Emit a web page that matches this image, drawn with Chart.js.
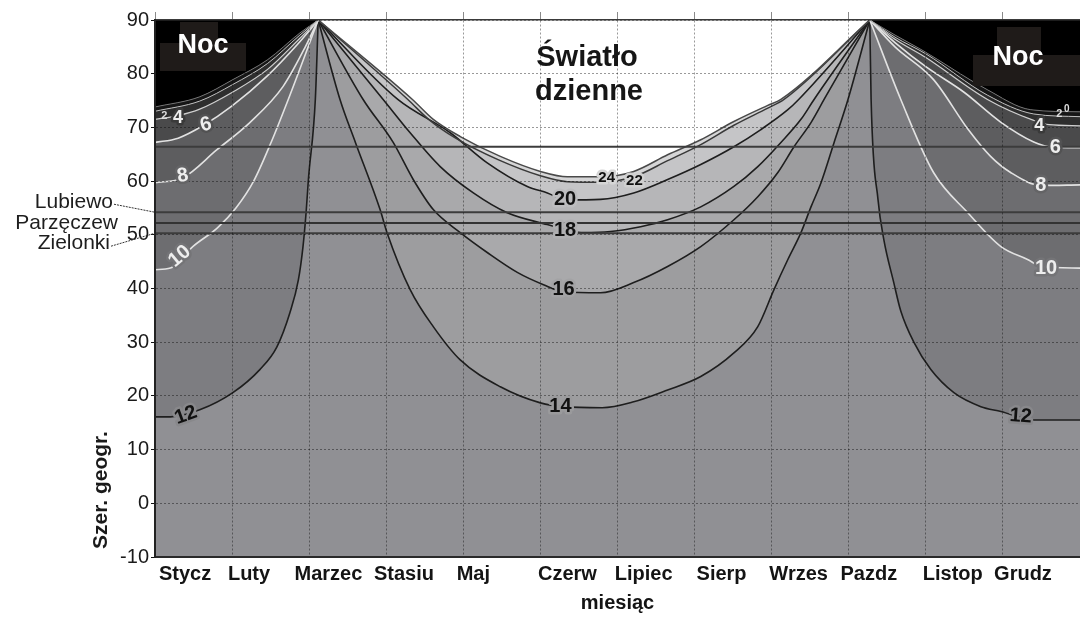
<!DOCTYPE html>
<html><head><meta charset="utf-8">
<script src="https://cdn.jsdelivr.net/npm/chart.js@4.4.1/dist/chart.umd.min.js"></script>
<style>html,body{margin:0;padding:0;background:#fff;}</style>
</head><body>
<canvas id="c" width="1080" height="619"></canvas>
<script>
const FONT = "'Liberation Sans', Arial, sans-serif";

// ---- axes ----
const monthNames = ['Stycz','Luty','Marzec','Stasiu','Maj','Czerw','Lipiec','Sierp','Wrzes','Pazdz','Listop','Grudz'];
const monthLabelPos = [0.39,1.22,2.25,3.23,4.13,5.35,6.34,7.35,8.35,9.26,10.35,11.26];
const latTicks = [-10,0,10,20,30,40,50,60,70,80,90];

// ---- winter contours, left (month, latitude) ----
const c0L  = [[0,73.8],[0.58,75.7],[1.01,78.9],[1.46,82.6],[1.88,87.6],[2.117,90]];
const c2L  = [[0,73.0],[0.58,74.9],[1.01,78.0],[1.46,81.9],[1.88,87.2],[2.117,90]];
const c4L  = [[0,71.5],[0.3,72.2],[0.58,73.4],[1.01,76.6],[1.46,80.8],[1.88,86.6],[2.117,90]];
const c6L  = [[0,67.2],[0.3,68.0],[0.62,70.3],[1.0,74.0],[1.45,79.5],[1.85,85.5],[2.117,90]];
const c8L  = [[0,59.7],[0.36,60.6],[0.8,65.8],[1.23,70.9],[1.66,77.6],[1.95,85.0],[2.117,90]];
const c10L = [[0,43.5],[0.2,43.8],[0.49,47.8],[0.81,51.3],[1.05,55.0],[1.28,60.0],[1.5,67.0],[1.75,76.0],[2.117,90]];
const c12L = [[0,16.1],[0.2,16.1],[0.58,17.4],[1.01,20.6],[1.36,24.9],[1.58,29.1],[1.75,35.5],[1.86,41.6],[1.92,47.8],[1.96,54.1],[1.99,60.3],[2.08,75.2],[2.117,90]];

// ---- winter contours, right ----
const c0R  = [[9.273,90],[9.6,87.2],[9.94,84.5],[10.8,77.0],[11.36,73.3],[12,72.9]];
const c2R  = [[9.273,90],[9.6,86.8],[10.0,83.7],[10.8,76.0],[11.4,72.5],[12,72.0]];
const c4R  = [[9.273,90],[9.6,86.4],[10.0,83.0],[10.8,75.2],[11.4,71.3],[11.6,70.5],[12,70.3]];
const c6R  = [[9.273,90],[9.6,85.8],[10.0,81.3],[10.5,76.5],[10.97,71.0],[11.4,67.3],[11.65,66.3],[12,66.2]];
const c8R  = [[9.273,90],[9.6,85.0],[10.1,78.9],[10.55,69.6],[10.84,64.6],[11.1,61.6],[11.5,59.2],[12,59.3]];
const c10R = [[9.273,90],[9.675,75.2],[10.1,61.6],[10.545,54.1],[10.974,47.8],[11.32,45.4],[11.5,44.1],[12,43.8]];
const c12R = [[9.273,90],[9.29,75.2],[9.38,56.5],[9.455,49.1],[9.584,41.1],[9.675,35.8],[9.844,30.0],[10.065,24.9],[10.364,20.6],[10.714,18.0],[10.974,17.1],[11.4,15.5],[12,15.5]];

// ---- summer contours ----
const s14 = [[2.117,90],[2.40,75.2],[2.60,67.2],[2.92,54.7],[3.01,50.4],[3.31,39.8],[3.61,32.9],[3.96,26.7],[4.48,21.7],[5.0,18.7],[5.3,18.0],[5.8,17.8],[6.21,18.9],[6.65,21.1],[7.08,23.6],[7.51,28.0],[7.82,32.9],[8.03,39.8],[8.21,45.4],[8.38,50.4],[8.51,55.2],[8.64,59.7],[8.81,67.2],[8.99,75.2],[9.273,90]];
const s16 = [[2.117,90],[2.70,75.2],[3.09,67.2],[3.35,60.3],[3.61,54.7],[3.96,50.4],[4.31,46.7],[4.70,43.0],[5.04,40.7],[5.30,39.4],[5.78,39.2],[6.21,41.1],[6.65,44.1],[7.08,47.8],[7.51,52.8],[7.82,57.1],[8.08,61.6],[8.29,66.4],[8.51,70.9],[8.68,75.2],[9.273,90]];
const s18 = [[2.117,90],[2.96,75.2],[3.31,69.0],[3.70,62.7],[4.13,57.8],[4.57,54.1],[5.09,51.9],[5.33,51.0],[5.56,50.4],[5.91,50.6],[6.30,51.5],[6.65,52.8],[7.08,55.2],[7.51,59.0],[7.82,62.7],[8.12,67.2],[8.38,71.5],[8.55,75.2],[9.273,90]];
const s20 = [[2.117,90],[3.15,75.2],[3.83,69.0],[4.31,63.4],[4.83,59.0],[5.09,57.8],[5.33,56.5],[5.78,56.6],[6.21,57.8],[6.65,60.3],[7.08,63.1],[7.51,66.4],[7.86,69.6],[8.21,73.3],[8.35,75.2],[9.273,90]];
const s22 = [[2.117,90],[3.28,75.2],[3.55,71.5],[3.9,68.0],[4.45,64.0],[5.0,61.0],[5.35,59.9],[5.78,59.8],[6.21,60.8],[6.65,63.8],[7.08,66.8],[7.51,70.4],[7.95,73.6],[8.16,75.2],[9.273,90]];
const s24 = [[2.117,90],[3.34,75.2],[3.61,71.5],[3.96,68.3],[4.48,64.6],[5.0,61.8],[5.35,60.8],[5.78,60.8],[6.21,61.8],[6.65,64.9],[7.08,67.7],[7.51,71.1],[7.95,74.1],[8.12,75.2],[9.273,90]];

// ---- reference latitudes ----
const arcticLat = 66.4;
const placeNames = ['Lubiewo','Parzęczew','Zielonki'];
const placeLats = [54.2, 52.2, 50.3];

// ---- contour labels: text, month, latitude ----
const lblText = ['14','16','18','20','24','22','12','12','10','10','8','8','6','6','4','4','2','2','0'];
const lblMonth = [5.26,5.30,5.32,5.32,5.86,6.22,0.40,11.23,0.32,11.56,0.36,11.49,0.66,11.68,0.30,11.47,0.12,11.73,11.83];
const lblLat = [18.1,39.8,50.8,56.5,60.6,60.0,16.4,16.2,46.0,43.8,61.0,59.1,70.5,66.2,71.8,70.3,72.2,72.5,73.3];
const lblStyle = [
 {c:'#111',bg:'#9a9a9c',s:20,r:0},{c:'#111',bg:'#a3a3a5',s:20,r:0},{c:'#111',bg:'#b0b0b2',s:20,r:0},{c:'#111',bg:'#bdbdbf',s:20,r:0},
 {c:'#111',bg:'#d6d6d6',s:15,r:0},{c:'#111',bg:'#d0d0d0',s:15,r:0},
 {c:'#111',bg:'#88888b',s:20,r:-20},{c:'#111',bg:'#88888b',s:20,r:4},
 {c:'#eee',bg:'#747477',s:20,r:-40},{c:'#eee',bg:'#747477',s:20,r:0},
 {c:'#eee',bg:'#646466',s:20,r:-10},{c:'#eee',bg:'#646466',s:20,r:0},
 {c:'#eee',bg:'#525253',s:20,r:-15},{c:'#eee',bg:'#525253',s:20,r:0},
 {c:'#eee',bg:'#3a3a3a',s:18,r:0},{c:'#eee',bg:'#3a3a3a',s:18,r:0},
 {c:'#ddd',bg:null,s:11,r:0},{c:'#ddd',bg:null,s:11,r:0},{c:'#ddd',bg:null,s:10,r:0}
];

const BASE = '#909094';
const pts = a => a.map(p => ({x:p[0], y:p[1]}));
function ds(arr, fill, bg, line, lw){
  return {data:pts(arr), fill:fill, backgroundColor:bg, borderColor:line||'rgba(0,0,0,0)', borderWidth:lw||0,
          pointRadius:0, cubicInterpolationMode:'monotone', order:1};
}
function hline(lat, color, lw){
  return {data:[{x:0,y:lat},{x:12,y:lat}], fill:false, borderColor:color, borderWidth:lw, pointRadius:0, order:-1};
}
const WL = '#e2e2e2', DK = '#1e1e1e';
const datasets = [
  ds(c0L,'end','#000000','rgba(150,150,150,0.7)',1),
  ds(c2L,'-1','#161616','#bdbdbd',1),
  ds(c4L,'-1','#2e2e2e','#cfcfcf',1.2),
  ds(c6L,'-1','#4a4a4b',WL,1.6),
  ds(c8L,'-1','#5d5d5f',WL,1.6),
  ds(c10L,'-1','#6d6d70',WL,1.6),
  ds(c12L,'-1','#7d7d81',DK,1.6),
  ds(c0R,'end','#000000','rgba(150,150,150,0.7)',1),
  ds(c2R,'-1','#161616','#bdbdbd',1),
  ds(c4R,'-1','#2e2e2e','#cfcfcf',1.2),
  ds(c6R,'-1','#4a4a4b',WL,1.6),
  ds(c8R,'-1','#5d5d5f',WL,1.6),
  ds(c10R,'-1','#6d6d70',WL,1.6),
  ds(c12R,'-1','#7d7d81',DK,1.6),
  ds(s24,'end','#ffffff','#4a4a4a',1.5),
  ds(s22,'-1','#d6d6d7','#3a3a3a',1.5),
  ds(s20,'-1','#c5c5c7',DK,1.6),
  ds(s18,'-1','#b6b6b8',DK,1.6),
  ds(s16,'-1','#a9a9ab',DK,1.6),
  ds(s14,'-1','#9d9d9f',DK,1.6),
  hline(arcticLat,'#3c3c3c',2),
  hline(placeLats[0],'#3c3c3c',2),
  hline(placeLats[1],'#333333',2),
  hline(placeLats[2],'#3c3c3c',2)
];

const bgPlugin = {
  id:'bg',
  beforeDraw(chart){
    const {ctx, chartArea:a} = chart;
    ctx.save();
    ctx.fillStyle = '#fff'; ctx.fillRect(0,0,chart.width,chart.height);
    ctx.fillStyle = BASE; ctx.fillRect(a.left,a.top,a.right-a.left,a.bottom-a.top);
    ctx.restore();
  }
};

const textPlugin = {
  id:'texts',
  afterDraw(chart){
    const {ctx} = chart;
    const xs = chart.scales.x, ys = chart.scales.y;
    ctx.save();
    // Noc boxes
    ctx.fillStyle = '#1f1b19';
    ctx.fillRect(180,22,38,22); ctx.fillRect(160,43,86,28);
    ctx.fillRect(997,27,44,28); ctx.fillRect(973,55,107,31);
    ctx.fillStyle = '#fff';
    ctx.font = 'bold 27px ' + FONT; ctx.textAlign='center'; ctx.textBaseline='middle';
    ctx.fillText('Noc', 203, 46);
    ctx.fillText('Noc', 1018, 58);
    // daylight
    ctx.fillStyle = '#161616';
    ctx.font = 'bold 29px ' + FONT;
    ctx.fillText('Światło', 587, 58);
    ctx.fillText('dzienne', 589, 92);
    // contour labels
    for (let i=0;i<lblText.length;i++){
      const st = lblStyle[i];
      const px = xs.getPixelForValue(lblMonth[i]), py = ys.getPixelForValue(lblLat[i]);
      ctx.save();
      ctx.translate(px,py); ctx.rotate(st.r*Math.PI/180);
      ctx.font = 'bold ' + st.s + 'px ' + FONT;
      ctx.textAlign='center'; ctx.textBaseline='middle';
      if (st.bg){ ctx.lineWidth = 5; ctx.strokeStyle = st.bg; ctx.lineJoin='round'; ctx.strokeText(lblText[i],0,0); }
      ctx.fillStyle = st.c; ctx.fillText(lblText[i],0,0);
      ctx.restore();
    }
    // place names + leaders
    const left = chart.chartArea.left;
    ctx.font = '21px ' + FONT; ctx.fillStyle = '#1e1e1e'; ctx.textAlign='right'; ctx.textBaseline='middle';
    const yL = ys.getPixelForValue(placeLats[0]), yP = ys.getPixelForValue(placeLats[1]), yZ = ys.getPixelForValue(placeLats[2]);
    ctx.fillText(placeNames[0], 113, yL - 10);
    ctx.fillText(placeNames[1], 118, yP);
    ctx.fillText(placeNames[2], 110, yZ + 10);
    ctx.strokeStyle = '#333'; ctx.lineWidth = 1; ctx.setLineDash([2,1]);
    ctx.beginPath(); ctx.moveTo(114, yL - 8); ctx.lineTo(left, yL); ctx.stroke();
    ctx.beginPath(); ctx.moveTo(111, yZ + 13); ctx.lineTo(left, yZ); ctx.stroke();
    ctx.setLineDash([]);
    // y title
    ctx.save();
    ctx.translate(101, 490); ctx.rotate(-Math.PI/2);
    ctx.font = 'bold 21px ' + FONT; ctx.textAlign='center'; ctx.textBaseline='middle'; ctx.fillStyle='#1a1a1a';
    ctx.fillText('Szer. geogr.', 0, 0);
    ctx.restore();
    ctx.restore();
  }
};

new Chart(document.getElementById('c'), {
  type:'line',
  data:{datasets},
  plugins:[bgPlugin, textPlugin],
  options:{
    responsive:false, animation:false, devicePixelRatio:1,
    layout:{padding:0},
    plugins:{legend:{display:false}, tooltip:{enabled:false}, filler:{drawTime:'beforeDatasetsDraw', propagate:false}},
    elements:{point:{radius:0}},
    scales:{
      x:{type:'linear', position:'bottom', min:0, max:12, z:1,
        afterBuildTicks: s => { s.ticks = monthLabelPos.map(v => ({value:v})); },
        afterFit: s => { s.height = 62; },
        grid:{display:false, drawTicks:false},
        border:{display:true, color:'#2a2a2a', width:2, z:2},
        ticks:{autoSkip:false, maxRotation:0, minRotation:0, padding:5, color:'#141414',
          font:{family:FONT, size:20, weight:'bold'}, callback:(v,i) => monthNames[i]},
        title:{display:true, text:'miesiąc', color:'#141414', font:{family:FONT, size:20, weight:'bold'}, padding:{top:0,bottom:4}}
      },
      xt:{type:'linear', position:'top', min:0, max:12, z:1,
        afterBuildTicks: s => { s.ticks = [0,1,2,3,4,5,6,7,8,9,10,11,12].map(v => ({value:v})); },
        afterFit: s => { s.height = 20; },
        ticks:{display:false},
        grid:{z:1, color:'rgba(0,0,0,0.4)', lineWidth:1, tickLength:8, tickColor:'#8a8a8a', tickWidth:1},
        border:{display:true, color:'#3a3a3a', width:1.5, dash:[2,2], z:2}
      },
      y:{type:'linear', min:-10, max:90, z:1,
        afterBuildTicks: s => { s.ticks = latTicks.map(v => ({value:v})); },
        afterFit: s => { s.width = 155; },
        ticks:{padding:2, color:'#1a1a1a', font:{family:FONT, size:20}, callback:v => String(v)},
        grid:{z:1, color:'rgba(0,0,0,0.4)', lineWidth:1, tickLength:4, tickColor:'#111'},
        border:{display:true, color:'#222', width:2, dash:[2,2], z:2}
      }
    }
  }
});
</script>
</body></html>
